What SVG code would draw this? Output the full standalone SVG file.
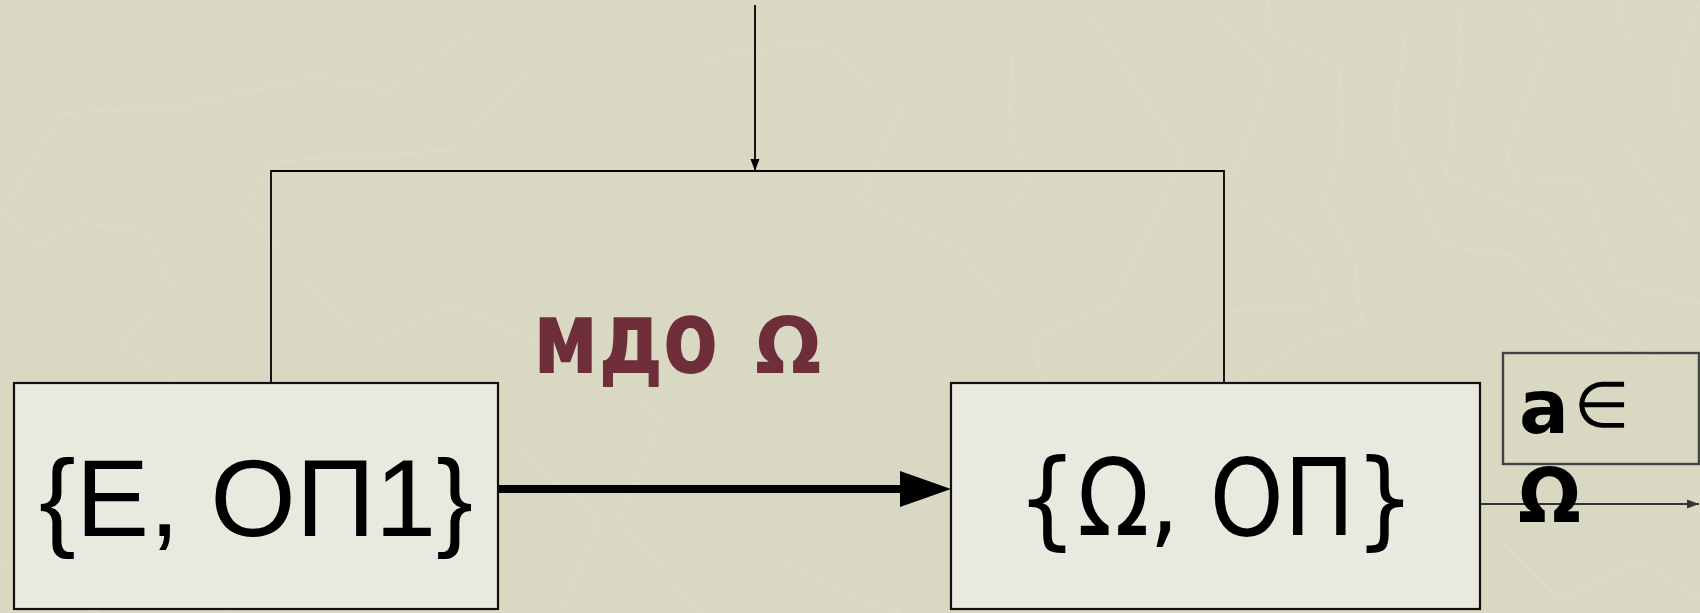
<svg xmlns="http://www.w3.org/2000/svg" width="1700" height="613" viewBox="0 0 1700 613">
  <defs>
    <style>
      .bg-line { fill: none; stroke: #e2e1cd; stroke-width: 1.4; opacity: 0.5; }
      .box { fill: #e9e9e0; stroke: #111; stroke-width: 2.2; }
      .note { fill: none; stroke: #444; stroke-width: 2.4; }
      .wire { fill: none; stroke: #000; stroke-width: 1.8; }
      .big-sans { font-family: "Liberation Sans", Arial, sans-serif; fill: #000; }
      .vsans { font-family: "DejaVu Sans Condensed", "DejaVu Sans", Verdana, sans-serif; fill: #000; }
      .bold { font-family: "DejaVu Sans", Verdana, sans-serif; font-weight: bold; }
      .maroon { fill: #6e2f3a; }
    </style>
    <marker id="tip-small" markerWidth="12" markerHeight="10" refX="12" refY="5" orient="auto" markerUnits="userSpaceOnUse">
      <path d="M0,0.5 L12,5 L0,9.5 Z" fill="#000"/>
    </marker>
    <marker id="tip-gray" markerWidth="12" markerHeight="10" refX="12" refY="5" orient="auto" markerUnits="userSpaceOnUse">
      <path d="M0,0.5 L12,5 L0,9.5 Z" fill="#333"/>
    </marker>
  </defs>

  <!-- background with faint zigzag texture -->
  <rect x="0" y="0" width="1700" height="613" fill="#d9d8c2"/>
  <g id="texture">
    <polyline class="bg-line" points="475,30 387,90 314,77 176,108 61,113 4,213 34,247 80,222 147,233 172,288 119,343 172,380 200,470 150,560 230,613"/>
    <polyline class="bg-line" points="555,40 455,150 268,162 245,213 367,347 450,305 600,367 660,420 620,520 700,613"/>
    <polyline class="bg-line" points="1013,53 1008,127 1033,188 1000,212"/>
    <polyline class="bg-line" points="1089,13 1183,157 1114,303 1033,338 1042,380"/>
    <polyline class="bg-line" points="1268,0 1272,33 1339,67 1344,137 1324,200 1355,263 1362,325 1313,337 1243,380"/>
    <polyline class="bg-line" points="1210,13 1272,70 1228,193 1308,248 1326,303 1223,312 1156,380"/>
    <polyline class="bg-line" points="1406,33 1393,127 1440,245 1513,255 1571,332 1656,358"/>
    <polyline class="bg-line" points="1455,3 1462,40 1446,175 1545,217 1594,308 1661,360"/>
    <polyline class="bg-line" points="1531,3 1547,42 1507,153 1518,185 1583,178 1618,283 1700,303"/>
    <polyline class="bg-line" points="1616,0 1629,43 1629,150 1683,227 1683,133 1674,75 1700,0"/>
    <polyline class="bg-line" points="700,60 820,40 900,110 860,200 960,250 1000,300"/>
    <polyline class="bg-line" points="520,450 600,520 560,613"/>
    <polyline class="bg-line" points="780,560 860,600 900,613"/>
    <polyline class="bg-line" points="1500,540 1560,600 1640,560 1700,600"/>
    <polyline class="bg-line" points="0,560 60,600 100,613"/>
  </g>

  <!-- connectors -->
  <g id="connectors">
    <line class="wire" x1="755" y1="5" x2="755" y2="171" marker-end="url(#tip-small)"/>
    <polyline class="wire" points="271,383 271,171 1224,171 1224,383"/>
    <line x1="498" y1="489" x2="902" y2="489" stroke="#000" stroke-width="8"/>
    <polygon points="900,471 951,489 900,507" fill="#000"/>
    <line x1="1480" y1="504" x2="1699" y2="504" stroke="#333" stroke-width="2" marker-end="url(#tip-gray)"/>
  </g>

  <!-- caption between the blocks -->
  <g id="label-mdo">
    <text class="bold maroon" transform="translate(533,373) scale(1,1.28)" x="0" y="0" font-size="80">мдо</text>
    <text class="bold maroon" x="755" y="373" font-size="78">Ω</text>
  </g>

  <g id="node-source">
    <rect class="box" x="14" y="383" width="484" height="226"/>
    <text class="big-sans" x="256" y="536" font-size="110" text-anchor="middle">{E, ОП1}</text>
  </g>

  <g id="node-target">
    <rect class="box" x="951" y="383" width="529" height="226"/>
    <text class="vsans" x="1017" y="535" font-size="107" textLength="398" lengthAdjust="spacingAndGlyphs">{Ω, ОП}</text>
  </g>

  <g id="node-output">
    <rect class="note" x="1503" y="353" width="196" height="111"/>
    <text class="bold" font-size="74" fill="#000">
      <tspan x="1519" y="433">a</tspan><tspan x="1574" y="427" font-weight="normal" font-size="64">∈</tspan>
      <tspan x="1518" y="522">Ω</tspan>
    </text>
  </g>
</svg>
